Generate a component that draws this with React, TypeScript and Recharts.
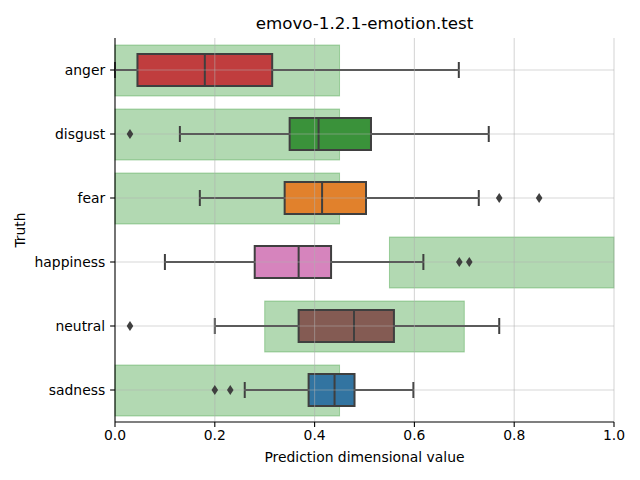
import React from 'react';
import { ComposedChart, Bar, Scatter, XAxis, YAxis, ReferenceLine } from 'recharts';

const categories = ['anger', 'disgust', 'fear', 'happiness', 'neutral', 'sadness'];
const whiskerLow = [0.0, 0.13, 0.17, 0.1, 0.2, 0.26];
const q1 = [0.045, 0.35, 0.34, 0.28, 0.368, 0.388];
const median = [0.18, 0.408, 0.415, 0.368, 0.479, 0.44];
const q3 = [0.315, 0.513, 0.503, 0.433, 0.559, 0.48];
const whiskerHigh = [0.689, 0.749, 0.729, 0.618, 0.77, 0.598];
const bandLow = [0, 0, 0, 0.55, 0.3, 0];
const bandHigh = [0.45, 0.45, 0.45, 1.0, 0.7, 0.45];
// outliers, up to two per category (null = none)
const outlierA = [null, 0.03, 0.77, 0.69, 0.03, 0.2];
const outlierB = [null, null, 0.85, 0.71, null, 0.231];
const xTicks = [0, 0.2, 0.4, 0.6, 0.8, 1.0];

const BOX_COLORS = ['#c03d3e', '#3a923a', '#e1812c', '#d684bd', '#845b53', '#3274a1'];
const LINE = '#3f3f3f';
const GRID = { stroke: '#b0b0b0', strokeOpacity: 0.5, strokeWidth: 1.1 };

const rows = categories.map((name, i) => ({
    name,
    band: [bandLow[i], bandHigh[i]],
    whisker: [whiskerLow[i], whiskerHigh[i]],
    box: [q1[i], q3[i]],
    med: [q1[i], median[i]],
    outA: outlierA[i],
    outB: outlierB[i],
    idx: i,
}));

const BandShape = (p: any) => (
    <rect x={p.x} y={p.y} width={p.width} height={p.height}
        fill="#008000" fillOpacity={0.3} stroke="#008000" strokeOpacity={0.3} strokeWidth={1} />
);

const WhiskerShape = (p: any) => {
    const cy = p.y + p.height / 2;
    return (
        <g stroke={LINE} strokeWidth={2} fill="none">
            <line x1={p.x} x2={p.x + p.width} y1={cy} y2={cy} />
            <line x1={p.x} x2={p.x} y1={p.y} y2={p.y + p.height} />
            <line x1={p.x + p.width} x2={p.x + p.width} y1={p.y} y2={p.y + p.height} />
        </g>
    );
};

const BoxShape = (p: any) => (
    <rect x={p.x} y={p.y} width={p.width} height={p.height}
        fill={BOX_COLORS[p.payload.idx]} stroke={LINE} strokeWidth={2} />
);

const MedianShape = (p: any) => (
    <line x1={p.x + p.width} x2={p.x + p.width} y1={p.y} y2={p.y + p.height} stroke={LINE} strokeWidth={2} />
);

const Diamond = (p: any) => {
    if (p.cx == null || p.cy == null || isNaN(p.cx)) return <g />;
    return (
        <path d={`M${p.cx},${p.cy - 5} L${p.cx + 3.3},${p.cy} L${p.cx},${p.cy + 5} L${p.cx - 3.3},${p.cy} Z`} fill={LINE} />
    );
};

const tickStyle = { fontSize: 13.9, fill: '#000' };

export default function App() {
    return (
        <div style={{ position: 'absolute', left: 0, top: 0, width: 640, height: 480, background: '#fff', fontFamily: '"DejaVu Sans", sans-serif', color: '#000' }}>
            <ComposedChart width={640} height={480} data={rows} layout="vertical"
                margin={{ top: 38, right: 26, bottom: 28, left: 15 }}>
                <XAxis type="number" domain={[0, 1]} ticks={xTicks} tickFormatter={(v: number) => v.toFixed(1)}
                    height={30} tick={tickStyle} tickSize={4.9} tickMargin={3}
                    axisLine={{ stroke: '#000', strokeWidth: 1.1 }} tickLine={{ stroke: '#000', strokeWidth: 1.1 }} />
                <YAxis type="category" dataKey="name" width={100} tick={tickStyle} tickSize={4.9} tickMargin={4.9}
                    axisLine={{ stroke: '#000', strokeWidth: 1.1 }} tickLine={{ stroke: '#000', strokeWidth: 1.1 }} />
                <YAxis yAxisId="band" type="category" dataKey="name" hide />
                <YAxis yAxisId="wh" type="category" dataKey="name" hide />
                <YAxis yAxisId="box" type="category" dataKey="name" hide />
                <YAxis yAxisId="med" type="category" dataKey="name" hide />
                <Bar yAxisId="band" dataKey="band" barSize={51} shape={BandShape} isAnimationActive={false} />
                <Bar yAxisId="wh" dataKey="whisker" barSize={16} shape={WhiskerShape} isAnimationActive={false} />
                <Bar yAxisId="box" dataKey="box" barSize={32} shape={BoxShape} isAnimationActive={false} />
                <Bar yAxisId="med" dataKey="med" barSize={32} shape={MedianShape} isAnimationActive={false} />
                {xTicks.slice(1).map((t) => (
                    <ReferenceLine key={'x' + t} x={t} {...GRID} />
                ))}
                {categories.map((c) => (
                    <ReferenceLine key={'y' + c} y={c} {...GRID} />
                ))}
                <Scatter dataKey="outA" shape={Diamond} isAnimationActive={false} />
                <Scatter dataKey="outB" shape={Diamond} isAnimationActive={false} />
            </ComposedChart>
            <div style={{ position: 'absolute', left: 115, width: 499, top: 13, lineHeight: '20px', textAlign: 'center', fontSize: 16.7 }}>
                emovo-1.2.1-emotion.test
            </div>
            <div style={{ position: 'absolute', left: 115, width: 499, top: 449, lineHeight: '16px', textAlign: 'center', fontSize: 13.9 }}>
                Prediction dimensional value
            </div>
            <div style={{ position: 'absolute', left: 20, top: 230, lineHeight: '16px', transform: 'translate(-50%, -50%) rotate(-90deg)', fontSize: 13.9 }}>
                Truth
            </div>
        </div>
    );
}
